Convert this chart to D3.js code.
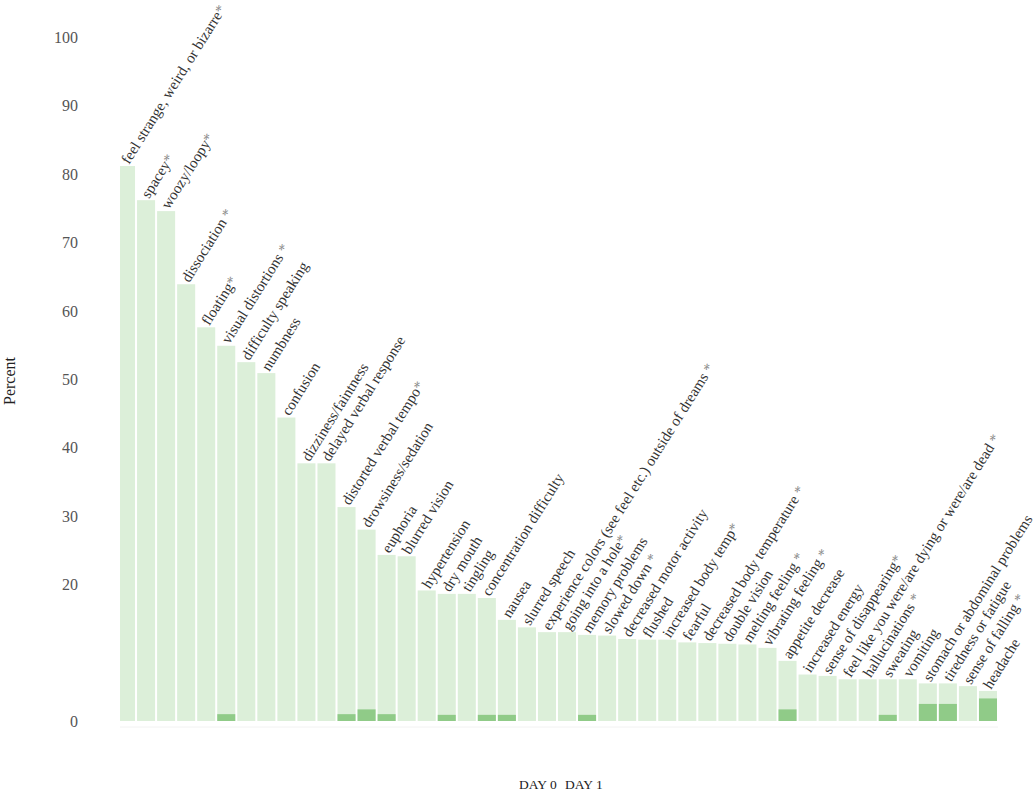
<!DOCTYPE html>
<html>
<head>
<meta charset="utf-8">
<script src="https://cdn.jsdelivr.net/npm/d3@7"></script>
<style>
  body { margin: 0; background: #fff; }
  svg { font-family: "Liberation Serif", "DejaVu Serif", serif; }
</style>
</head>
<body>
<div id="chart"></div>
<script>
// symptom categories, in the order they are drawn
var symptoms = [
  "feel strange, weird, or bizarre*", "spacey*", "woozy/loopy*", "dissociation *",
  "floating*", "visual distortions *", "difficulty speaking", "numbness",
  "confusion", "dizziness/faintness", "delayed verbal response", "distorted verbal tempo*",
  "drowsiness/sedation", "euphoria", "blurred vision", "hypertension",
  "dry mouth", "tingling", "concentration difficulty", "nausea",
  "slurred speech", "experience colors (see feel etc.) outside of dreams *", "going into a hole*", "memory problems",
  "slowed down *", "decreased motor activity", "flushed", "increased body temp*",
  "fearful", "decreased body temperature *", "double vision", "melting feeling *",
  "vibrating feeling *", "appetite decrease", "increased energy", "sense of disappearing*",
  "feel like you were/are dying or were/are dead *", "hallucinations *", "sweating", "vomiting",
  "stomach or abdominal problems", "tiredness or fatigue", "sense of falling *", "headache"
];

// percent reporting each symptom
var dayZero = [
  81.2, 76.2, 74.6, 63.9, 57.6, 54.9, 52.5, 50.9, 44.4, 37.7, 37.7,
  31.3, 28.0, 24.3, 24.1, 19.1, 18.6, 18.6, 18.0, 14.8, 13.7, 13.0,
  13.0, 12.6, 12.5, 12.0, 11.9, 11.9, 11.5, 11.4, 11.3, 11.2, 10.7,
  8.8, 6.8, 6.6, 6.1, 6.1, 6.1, 6.1, 5.5, 5.5, 5.1, 4.4
];
var dayOne = [
  0, 0, 0, 0, 0, 1.0, 0, 0, 0, 0, 0,
  1.0, 1.7, 1.0, 0, 0, 0.9, 0, 0.9, 0.9, 0, 0,
  0, 0.9, 0, 0, 0, 0, 0, 0, 0, 0, 0,
  1.7, 0, 0, 0, 0, 0.9, 0, 2.5, 2.5, 0, 3.3
];

var yTicks = [0, 20, 30, 40, 50, 60, 70, 80, 90, 100];
var seriesNames = ["DAY 0", "DAY 1"];
var seriesColors = ["#dcefd9", "#90cb88"];

var w = 1035, h = 794;

var svg = d3.select("#chart")
  .append("svg")
  .attr("width", w)
  .attr("height", h);

var x = d3.scaleBand()
  .domain(d3.range(symptoms.length))
  .range([116, 998])
  .paddingInner(0.1)
  .paddingOuter(0.05);

var y = d3.scaleLinear()
  .domain([0, 100])
  .range([721, 37.5]);

svg.append("clipPath")
  .attr("id", "plotclip")
  .append("rect")
  .attr("x", 120).attr("y", 0)
  .attr("width", w - 120).attr("height", h);

// faint baseline
svg.append("line")
  .attr("x1", 120).attr("x2", x.range()[1])
  .attr("y1", y(0) + 6).attr("y2", y(0) + 6)
  .attr("stroke", "#f2f2f2")
  .attr("stroke-width", 1);

var plot = svg.append("g").attr("clip-path", "url(#plotclip)");

// day 0 bars
plot.selectAll("rect.day0")
  .data(dayZero)
  .enter()
  .append("rect")
  .attr("class", "day0")
  .attr("x", function(d, i) { return x(i); })
  .attr("y", function(d) { return y(d); })
  .attr("width", x.bandwidth())
  .attr("height", function(d) { return y(0) - y(d); })
  .attr("fill", seriesColors[0]);

// day 1 bars
plot.selectAll("rect.day1")
  .data(dayOne)
  .enter()
  .append("rect")
  .attr("class", "day1")
  .attr("x", function(d, i) { return x(i); })
  .attr("y", function(d) { return y(d); })
  .attr("width", x.bandwidth())
  .attr("height", function(d) { return y(0) - y(d); })
  .attr("fill", seriesColors[1]);

// y axis, labels only
var yAxis = d3.axisLeft(y)
  .tickValues(yTicks)
  .tickSize(0)
  .tickPadding(0);

var yg = svg.append("g")
  .attr("transform", "translate(78,0)")
  .call(yAxis);
yg.select(".domain").remove();
yg.selectAll("text")
  .attr("font-family", "Liberation Serif, serif")
  .attr("font-size", 16)
  .attr("fill", "#555");

svg.append("text")
  .attr("transform", "translate(15,381) rotate(-90)")
  .attr("text-anchor", "middle")
  .attr("font-size", 16)
  .attr("fill", "#222")
  .text("Percent");

// rotated category labels sitting on the bar tops
var labels = svg.selectAll("text.cat")
  .data(symptoms)
  .enter()
  .append("text")
  .attr("class", "cat")
  .attr("font-size", 15)
  .attr("fill", "#333")
  .attr("transform", function(d, i) {
    var lx = x(i) + x.bandwidth() / 2 + 3;
    var ly = y(dayZero[i]) - 1;
    return "translate(" + lx + "," + ly + ") rotate(-58)";
  });

labels.append("tspan")
  .text(function(d) { return d.replace(/\*$/, ""); });
labels.filter(function(d) { return /\*$/.test(d); })
  .append("tspan")
  .attr("fill", "#888")
  .text("*");

// legend (text only)
var legend = svg.append("g").attr("transform", "translate(519,789)");
legend.selectAll("text")
  .data(seriesNames)
  .enter()
  .append("text")
  .attr("x", function(d, i) { return i * 46; })
  .attr("font-size", 13.5)
  .attr("fill", "#222")
  .text(function(d) { return d; });
</script>
</body>
</html>
